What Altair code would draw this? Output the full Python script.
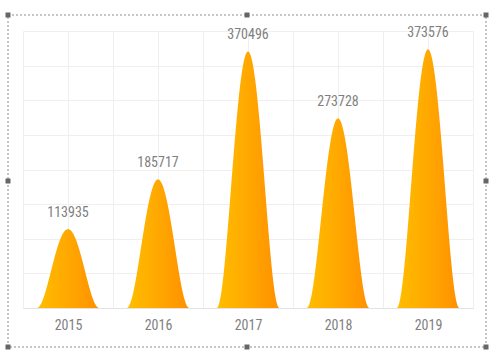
import altair as alt
import numpy as np
import pandas as pd

years = ["2015", "2016", "2017", "2018", "2019"]
values = [113935, 185717, 370496, 273728, 373576]
centers = [1, 3, 5, 7, 9]

FONT = "Liberation Sans Narrow, Roboto Condensed, Noto Sans, sans-serif"
GRAY = "#7f7f7f"

# bell-shaped glyph outline (unit shape, scaled by each value)
ts = np.linspace(-1, 1, 101)
shape = (1 - ts**2) ** 2.2
HALF = 0.70

labels = pd.DataFrame({"year": years, "x": centers, "y": values,
                       "label": [str(v) for v in values]})

label_expr = ("datum.value % 2 == 1 ? " + str(years) +
              "[(datum.value - 1) / 2] : ''")

x_enc = alt.X("x:Q", scale=alt.Scale(domain=[0, 10], nice=False, zero=False),
              axis=alt.Axis(values=list(range(11)), grid=True, ticks=False,
                            labelExpr=label_expr, labelOverlap=False,
                            labelFlush=False, labelFont=FONT, labelFontSize=14,
                            labelColor=GRAY, labelPadding=10, domain=True,
                            domainColor="#e3e3e3", gridColor="#efefef",
                            title=None))
y_enc = alt.Y("y:Q", scale=alt.Scale(domain=[0, 400000], nice=False),
              axis=alt.Axis(values=list(range(0, 400001, 50000)), grid=True,
                            gridColor="#efefef", labels=False, ticks=False,
                            domain=False, title=None))

grad = alt.Gradient(gradient="linear",
                    stops=[alt.GradientStop(color="#FFBE00", offset=0),
                           alt.GradientStop(color="#FFA800", offset=0.5),
                           alt.GradientStop(color="#FF9000", offset=1)],
                    x1=0, x2=1, y1=0, y2=0)

bells = []
for yr, v, c in zip(years, values, centers):
    df = pd.DataFrame({"x": c + ts * HALF, "y": v * shape})
    bells.append(alt.Chart(df).mark_area(color=grad, interpolate="linear")
                 .encode(x=x_enc, y=y_enc))

text = alt.Chart(labels).mark_text(dy=-12, baseline="alphabetic", fontSize=14,
                                   font=FONT, color=GRAY).encode(
    x=x_enc, y=y_enc, text="label:N")

one = pd.DataFrame({"a": [0]})
# dashed selection frame (page coords offset by plot origin 23,31)
frame = alt.Chart(one).mark_rect(fillOpacity=0, stroke="#8c8c8c",
                                 strokeDash=[2, 2], strokeWidth=1).encode(
    x=alt.value(8 - 23), x2=alt.value(486 - 23),
    y=alt.value(15 - 31), y2=alt.value(347 - 31))

handles = []
for hx, hy in [(8, 15), (247, 15), (486, 15), (8, 181), (486, 181),
               (8, 347), (247, 347), (486, 347)]:
    handles.append(alt.Chart(one).mark_rect(color="#666666").encode(
        x=alt.value(hx - 23 - 2.5), x2=alt.value(hx - 23 + 2.5),
        y=alt.value(hy - 31 - 2.5), y2=alt.value(hy - 31 + 2.5)))

chart = alt.layer(*bells, text, frame, *handles).properties(
    width=450, height=277,
    padding={"left": 23, "top": 31, "right": 21, "bottom": 51},
    autosize=alt.AutoSizeParams(type="none"),
    background="white",
).configure_view(stroke=None)

chart.save("out.html", embed_options={"renderer": "svg", "actions": False})
